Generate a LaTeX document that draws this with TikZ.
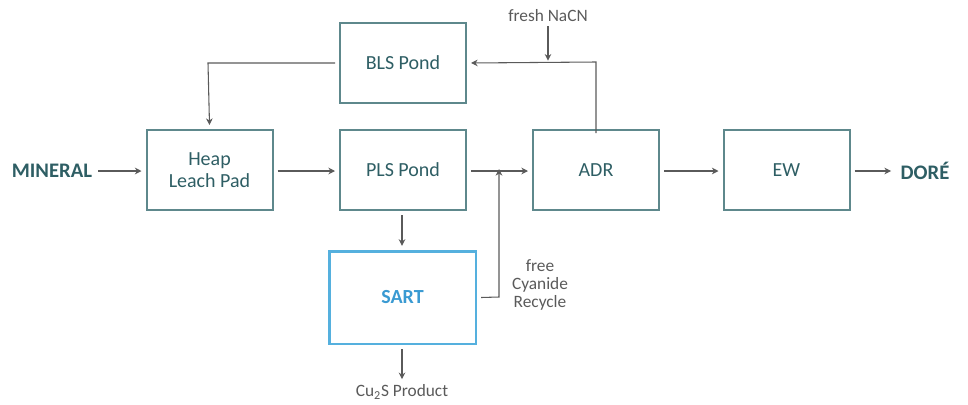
\documentclass[tikz,border=0pt]{standalone}
\usepackage{fontspec}
\setmainfont{Carlito}
\usetikzlibrary{arrows.meta}
\definecolor{tealtxt}{HTML}{2E5E64}
\definecolor{tealbox}{HTML}{5E888C}
\definecolor{arr}{HTML}{5A5A5A}
\definecolor{sartb}{HTML}{55B0DE}
\definecolor{sartt}{HTML}{3A9AD2}
\begin{document}
\begin{tikzpicture}[x=0.75pt,y=-0.75pt,
  proc/.style={draw=tealbox,line width=1.5pt,minimum width=94.5pt,minimum height=60pt,inner sep=0pt,
    text=tealtxt,font=\fontsize{15}{16.5}\selectfont,align=center},
  sartbox/.style={draw=sartb,line width=2pt,minimum width=110pt,minimum height=69.5pt,inner sep=0pt,
    text=sartt,font=\fontsize{15}{16.5}\selectfont\bfseries},
  endlbl/.style={text=tealtxt,font=\fontsize{15.5}{17}\selectfont\bfseries,inner sep=0pt},
  small/.style={text=arr,font=\fontsize{13}{13.5}\selectfont,align=center,inner sep=0pt},
  flow/.style={draw=arr,line width=0.8pt,-{Stealth[length=5pt,width=5pt]}},
  line/.style={draw=arr,line width=0.8pt}]
\useasboundingbox (0,0) rectangle (968,404);
\node[endlbl] (min) at (52,171) {MINERAL};
\node[proc] (heap) at (209.5,170) {Heap\\Leach Pad};
\node[proc] (pls) at (403,170) {PLS Pond};
\node[proc] (bls) at (403,63) {BLS Pond};
\node[proc] (adr) at (596,170) {ADR};
\node[proc] (ew) at (786.5,170) {EW};
\node[endlbl] (dore) at (925,171) {DORÉ};
\node[sartbox] (sart) at (402.5,297.5) {SART};
\node[small] (nacn) at (548,16) {fresh NaCN};
\node[small] (cus) at (402,392) {Cu\textsubscript{2}S Product};
\node[small] (fcr) at (540,285) {free\\Cyanide\\Recycle};
\coordinate (j1) at (499,171);
\coordinate (j2) at (548,62);
\draw[flow] ([xshift=4.5pt]min.east) -- ([xshift=-3pt]heap.west |- min.east);
\draw[flow] ([xshift=3pt]heap.east |- 0,171) -- ([xshift=-3pt]pls.west |- 0,171);
\draw[flow] ([xshift=3pt]pls.east |- 0,171) -- ([xshift=-3pt]adr.west |- 0,171);
\draw[flow] ([xshift=3pt]adr.east |- 0,171) -- ([xshift=-3pt]ew.west |- 0,171);
\draw[flow] ([xshift=3pt]ew.east |- 0,171) -- ([xshift=-7pt]dore.west);
\draw[flow] ([xshift=-3pt]bls.west) -- (208,63) -- ([yshift=3pt]heap.north);
\draw[flow] ([yshift=-3pt]adr.north) -- (596,62) -- ([xshift=3pt]bls.east);
\draw[flow] ([yshift=-3pt]nacn.south) -- ([yshift=1pt]j2);
\draw[flow] ([yshift=-3pt]pls.south -| 402,0) -- ([yshift=3pt]sart.north -| 402,0);
\draw[flow] ([yshift=-3pt]sart.south -| 402,0) -- ([yshift=4pt]cus.north);
\draw[flow] ([xshift=3pt]sart.east) -- (499,297) -- ([yshift=1.5pt]j1);
\end{tikzpicture}
\end{document}
